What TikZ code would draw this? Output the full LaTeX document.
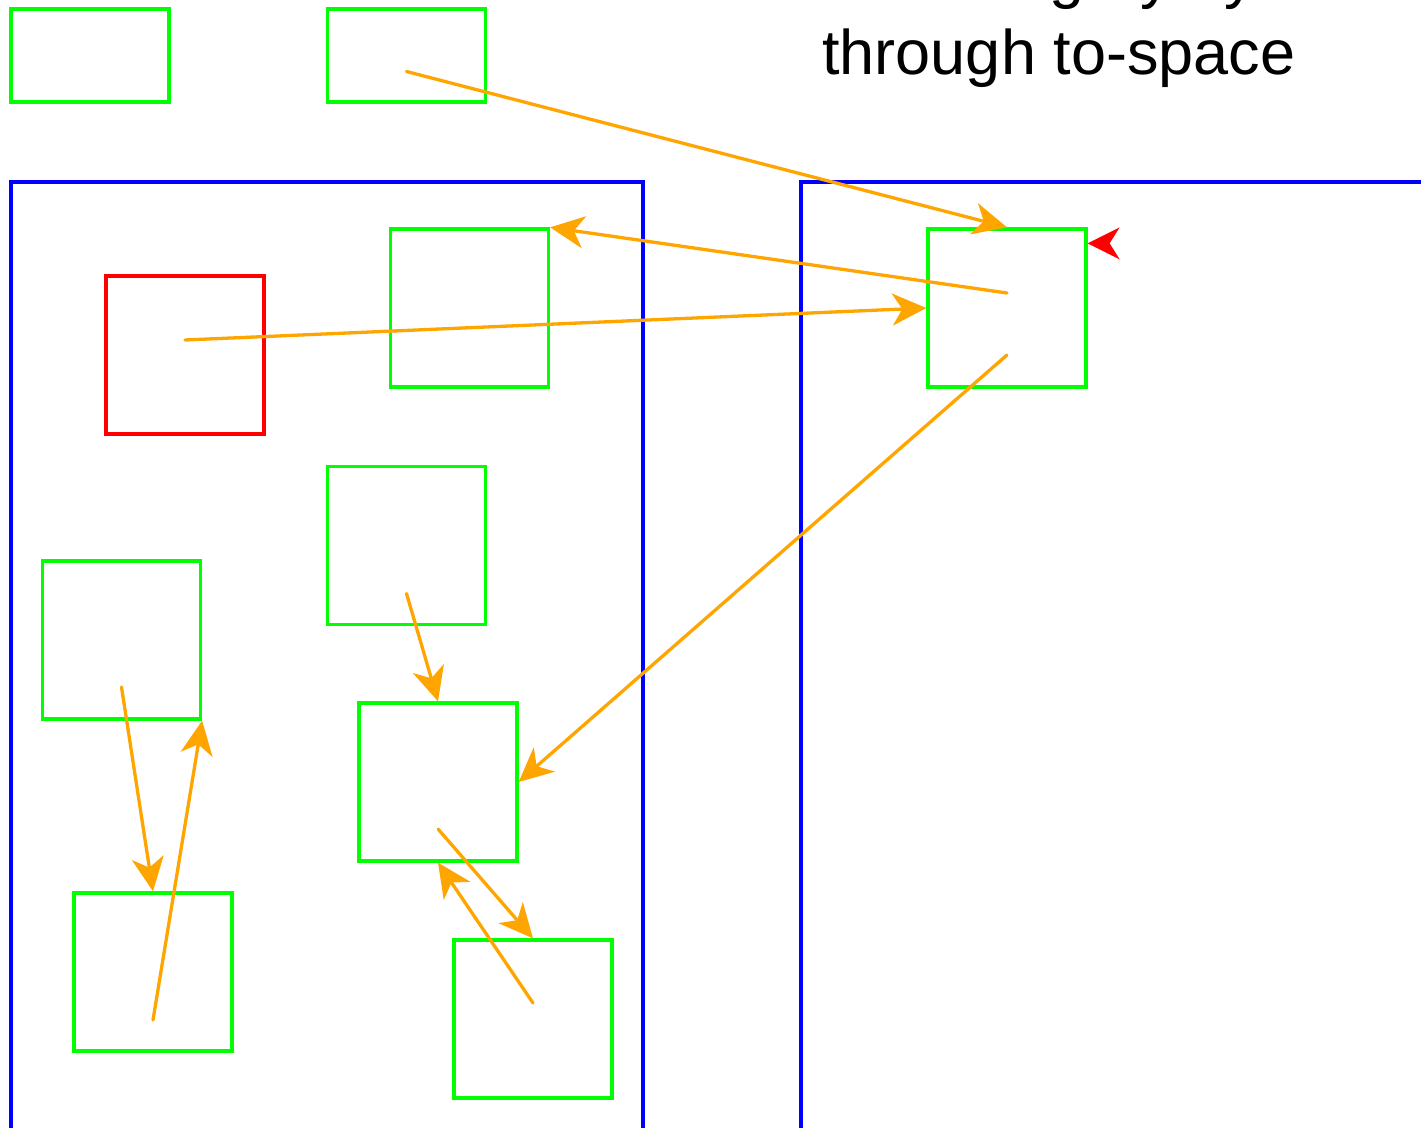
\documentclass[tikz,border=0pt]{standalone}
\usepackage{fontspec}
\setmainfont{Liberation Sans}
\usetikzlibrary{arrows.meta,calc}
\definecolor{gbox}{HTML}{00FF00}
\definecolor{bspace}{HTML}{0000FF}
\definecolor{ptr}{HTML}{FFA500}
\definecolor{rbox}{HTML}{FF0000}
\begin{document}
\begin{tikzpicture}[x=0.5pt,y=-0.5pt,
  objbox/.style={draw=gbox,line width=1.65pt,rectangle,inner sep=0pt,minimum width=79pt,minimum height=79pt},
  rootbox/.style={objbox,minimum height=46.5pt},
  redbox/.style={objbox,draw=rbox},
  spaceline/.style={draw=bspace,line width=1.65pt},
  ptrarrow/.style={draw=ptr,line width=1.65pt,line cap=round,-{Stealth[length=17pt,width=16pt,inset=5pt]}},
  caption/.style={font=\fontsize{31.5pt}{38.5pt}\selectfont,inner sep=0pt,anchor=base west}]
\useasboundingbox (0,0) rectangle (1421,1128);
% spaces
\draw[spaceline] (11,1140) -- (11,182) -- (643,182) -- (643,1140);
\draw[spaceline] (801,1140) -- (801,182) -- (1440,182);
% root boxes
\node[rootbox] (ra) at (90,55.5) {};
\node[rootbox] (rb) at (406.5,55.5) {};
% from-space objects
\node[redbox] (red) at (185,355) {};
\node[objbox] (f1) at (469.5,308) {};
\node[objbox] (f2) at (406.5,545.5) {};
\node[objbox] (f3) at (121.5,640) {};
\node[objbox] (f4) at (438,782) {};
\node[objbox] (f5) at (153,972) {};
\node[objbox] (f6) at (533,1019) {};
% to-space object
\node[objbox] (t1) at (1007,308) {};
% text
\node[caption] (cap1) at (822,-3) {Marked gray by};
\node[caption] (cap2) at (822,75) {through to-space};
% slots
\coordinate (rbs) at ($(rb.center)+(0,16)$);
\coordinate (t1a) at ($(t1.center)+(0,-15)$);
\coordinate (t1b) at ($(t1.center)+(0,47)$);
\coordinate (reds) at ($(red.center)+(0,-15)$);
\coordinate (f2s) at ($(f2.center)+(0,48)$);
\coordinate (f3s) at ($(f3.center)+(0,47)$);
\coordinate (f4s) at ($(f4.center)+(0,47)$);
\coordinate (f5s) at ($(f5.center)+(0,48)$);
\coordinate (f6s) at ($(f6.center)+(0,-16)$);
% pointers
\draw[ptrarrow] (rbs) -- (t1.north);
\draw[ptrarrow] (t1a) -- (f1.north east);
\draw[ptrarrow] (reds) -- (t1.west);
\draw[ptrarrow] (t1b) -- (f4.east);
\draw[ptrarrow] (f2s) -- (f4.north);
\draw[ptrarrow] (f3s) -- (f5.north);
\draw[ptrarrow] (f5s) -- (f3.south east);
\draw[ptrarrow] (f4s) -- (f6.north);
\draw[ptrarrow] (f6s) -- (f4.south);
% free pointer marker
\coordinate (freep) at ($(t1.north east)+(0,16)$);
\fill[rbox] (freep) -- ++(32,-16) -- ++(-10,16) -- ++(10,16) -- cycle;
\end{tikzpicture}
\end{document}
